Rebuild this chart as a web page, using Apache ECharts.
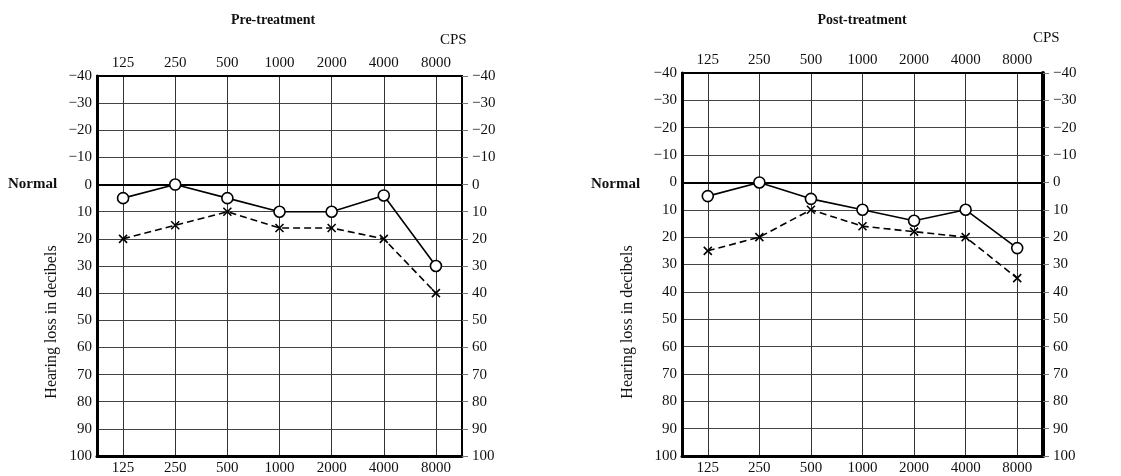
<!DOCTYPE html>
<html>
<head>
<meta charset="utf-8">
<script src="https://cdn.jsdelivr.net/npm/echarts@6/dist/echarts.min.js"></script>
<style>
  html, body { margin: 0; background: #fff; }
  #chart { width: 1121px; height: 476px; }
</style>
</head>
<body>
<div id="chart"></div>
<script>
// frequency categories (CPS)
const freqs = ['125', '250', '500', '1000', '2000', '4000', '8000'];
// hearing loss in dB
const preSolid = [5, 0, 5, 10, 10, 4, 30];
const preDashed = [20, 15, 10, 16, 16, 20, 40];
const postSolid = [5, 0, 6, 10, 14, 10, 24];
const postDashed = [25, 20, 10, 16, 18, 20, 35];

const font = 'Liberation Serif';
const chart = echarts.init(document.getElementById('chart'));

function dbLabel(v) {
  return v < 0 ? '\u2212' + Math.abs(v) : String(v);
}

// y axes: left + right for each grid
function yAxes(grid, rightWidth) {
  const base = {
    type: 'value', gridIndex: grid, inverse: true,
    min: -40, max: 100, interval: 10
  };
  return [
    Object.assign({}, base, {
      position: 'left',
      axisLine: { show: true, lineStyle: { color: '#000', width: 3 } },
      axisTick: { show: false },
      axisLabel: { formatter: dbLabel, color: '#111', fontFamily: font, fontSize: 15, margin: 5 },
      splitLine: { show: true, lineStyle: { color: '#444', width: 1 } }
    }),
    Object.assign({}, base, {
      position: 'right',
      axisLine: { show: true, lineStyle: { color: '#000', width: rightWidth } },
      axisTick: { show: true, length: 6, lineStyle: { color: '#777' } },
      axisLabel: { formatter: dbLabel, color: '#111', fontFamily: font, fontSize: 15, margin: 10, align: 'left' },
      splitLine: { show: false }
    })
  ];
}

// x axes: bottom + top for each grid
function xAxes(grid) {
  return [
    {
      type: 'category', gridIndex: grid, data: freqs, position: 'bottom',
      axisLine: { onZero: false, lineStyle: { color: '#000', width: 3 } },
      axisTick: { show: false },
      axisLabel: { color: '#111', fontFamily: font, fontSize: 15, margin: 5 },
      splitLine: { show: true, alignWithLabel: true, lineStyle: { color: '#333', width: 1 } }
    },
    {
      type: 'category', gridIndex: grid, data: freqs, position: 'top',
      axisLine: { onZero: false, lineStyle: { color: '#000', width: 2 } },
      axisTick: { show: false },
      axisLabel: { color: '#111', fontFamily: font, fontSize: 15, margin: 5 },
      splitLine: { show: false }
    }
  ];
}

function solid(data, xi, yi) {
  return {
    type: 'line', data: data, xAxisIndex: xi, yAxisIndex: yi,
    symbol: 'circle', symbolSize: 11, showAllSymbol: true,
    lineStyle: { color: '#000', width: 1.6 },
    itemStyle: { color: '#fff', borderColor: '#000', borderWidth: 1.6 },
    z: 5, animation: false,
    markLine: {
      silent: true, symbol: 'none', label: { show: false },
      lineStyle: { color: '#000', width: 2, type: 'solid' },
      data: [{ yAxis: 0 }]
    }
  };
}

function dashed(data, xi, yi) {
  return {
    type: 'line', data: data, xAxisIndex: xi, yAxisIndex: yi,
    symbol: 'path://M0,0L10,10M10,0L0,10', symbolSize: 8, showAllSymbol: true,
    lineStyle: { color: '#000', width: 1.6, type: [7, 4] },
    itemStyle: { color: 'none', borderColor: '#000', borderWidth: 1.6 },
    z: 4, animation: false
  };
}

const titleStyle = { fontFamily: font, fontSize: 14, fontWeight: 'bold', color: '#111' };
const textFont = 'bold 15px "Liberation Serif"';

const option = {
  backgroundColor: '#fff',
  animation: false,
  title: [
    { text: 'Pre-treatment', left: 268, top: 8, textAlign: 'center', textStyle: titleStyle },
    { text: 'Post-treatment', left: 857, top: 8, textAlign: 'center', textStyle: titleStyle }
  ],
  grid: [
    { left: 97, top: 76, width: 365, height: 384, show: true, borderColor: '#000', borderWidth: 2 },
    { left: 682, top: 73, width: 361, height: 386, show: true, borderColor: '#000', borderWidth: 2 }
  ],
  xAxis: [].concat(xAxes(0), xAxes(1)),
  yAxis: [].concat(yAxes(0, 2), yAxes(1, 4)),
  series: [
    solid(preSolid, 0, 0),
    dashed(preDashed, 0, 0),
    solid(postSolid, 2, 2),
    dashed(postDashed, 2, 2)
  ],
  graphic: [
    { type: 'text', left: 8, top: 177, style: { text: 'Normal', font: textFont, fill: '#111' } },
    { type: 'text', left: 591, top: 177, style: { text: 'Normal', font: textFont, fill: '#111' } },
    { type: 'text', left: 440, top: 33, style: { text: 'CPS', font: '15px "Liberation Serif"', fill: '#111' } },
    { type: 'text', left: 1033, top: 31, style: { text: 'CPS', font: '15px "Liberation Serif"', fill: '#111' } },
    { type: 'text', x: 52, y: 322, rotation: Math.PI / 2, originX: 0, originY: 0,
      style: { text: 'Hearing loss in decibels', font: '16px "Liberation Serif"', fill: '#111',
        align: 'center', verticalAlign: 'middle' } },
    { type: 'text', x: 628, y: 322, rotation: Math.PI / 2, originX: 0, originY: 0,
      style: { text: 'Hearing loss in decibels', font: '16px "Liberation Serif"', fill: '#111',
        align: 'center', verticalAlign: 'middle' } }
  ]
};

chart.setOption(option);
</script>
</body>
</html>
